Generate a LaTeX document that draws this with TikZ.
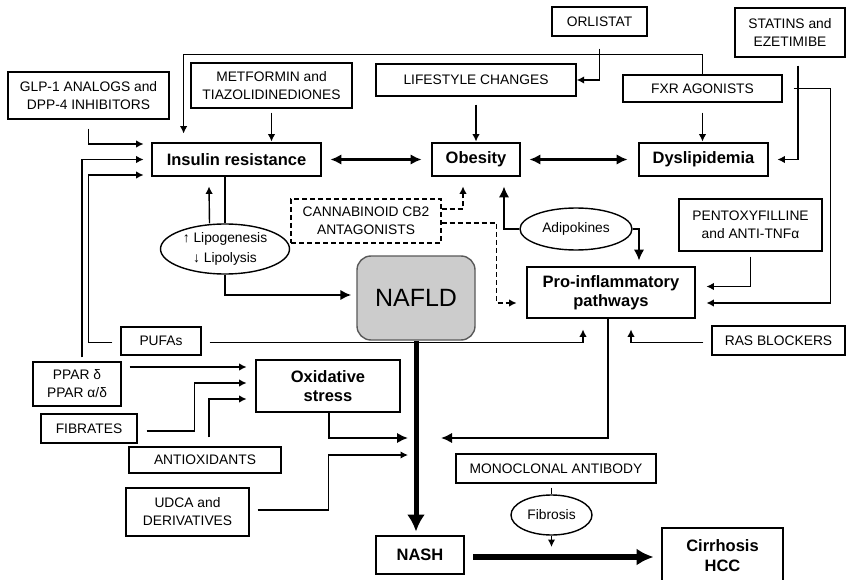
\documentclass[tikz,border=0pt]{standalone}
\usepackage{fontspec}
\setmainfont{Liberation Sans}
\usetikzlibrary{arrows.meta,shapes.geometric}
\begin{document}
\begin{tikzpicture}[x=1pt,y=-1pt,
 sbox/.style={draw, line width=1.4pt, inner sep=0pt, align=center, font=\fontsize{13.8}{18}\selectfont},
 mbox/.style={draw, line width=2.8pt, inner sep=0pt, align=center, font=\fontsize{16.5}{19.5}\selectfont\bfseries},
 ell/.style={draw, ellipse, line width=1.4pt, inner xsep=0pt, inner ysep=-6pt, align=center, font=\fontsize{13.8}{20}\selectfont, fill=white},
 nafbox/.style={draw=black!65, fill=black!20, line width=1.4pt, rounded corners=14pt, inner sep=0pt, font=\fontsize{25}{28}\selectfont},
 arr/.style={line width=1.4pt, -{Latex[length=7.5pt,width=7.5pt]}},
 tarr/.style={line width=2.6pt, -{Latex[length=11pt,width=10.5pt]}},
 tdarr/.style={line width=2.6pt, {Latex[length=11pt,width=10.5pt]}-{Latex[length=11pt,width=10.5pt]}},
 darr/.style={line width=1.4pt, dash pattern=on 5pt off 3pt, -{Latex[length=7.5pt,width=7.5pt]}},
 ]
\useasboundingbox[fill=white] (0,0) rectangle (846,580);

% nodes
\node[sbox, minimum width=95pt, minimum height=29pt] (orl) at (599.5,21.5) {ORLISTAT};
\node[sbox, minimum width=110pt, minimum height=49pt] (stat) at (790,32.5) {STATINS and\\EZETIMIBE};
\node[sbox, minimum width=161pt, minimum height=47pt] (glp) at (88.5,95.5) {GLP-1 ANALOGS and\\DPP-4 INHIBITORS};
\node[sbox, minimum width=161pt, minimum height=45pt] (met) at (271.5,85.5) {METFORMIN and\\TIAZOLIDINEDIONES};
\node[sbox, minimum width=200pt, minimum height=32pt] (life) at (476,80) {LIFESTYLE CHANGES};
\node[sbox, minimum width=159pt, minimum height=27pt] (fxr) at (702.5,88.5) {FXR AGONISTS};
\node[mbox, minimum width=169pt, minimum height=33pt] (ins) at (236.5,159.5) {Insulin resistance};
\node[mbox, minimum width=88pt, minimum height=33pt] (obe) at (476,159.5) {Obesity};
\node[mbox, minimum width=129pt, minimum height=33pt] (dys) at (703.5,159.5) {Dyslipidemia};
\node[sbox, dash pattern=on 5pt off 3pt, minimum width=150pt, minimum height=44pt] (cb2) at (366,221) {CANNABINOID CB2\\ANTAGONISTS};
\node[ell, minimum width=129pt, minimum height=50pt] (lip) at (225,249) {↑ Lipogenesis\\↓ Lipolysis};
\node[ell, minimum width=112pt, minimum height=42pt] (adi) at (576,229) {Adipokines};
\node[sbox, minimum width=143pt, minimum height=52pt] (pen) at (750.5,225) {PENTOXYFILLINE\\and ANTI-TNFα};
\node[nafbox, minimum width=118pt, minimum height=84pt] (naf) at (416,298) {NAFLD};
\node[mbox, minimum width=168pt, minimum height=51pt] (pro) at (611,292.5) {Pro-inflammatory\\pathways};
\node[sbox, minimum width=133pt, minimum height=29pt] (ras) at (778.5,340.5) {RAS BLOCKERS};
\node[sbox, minimum width=80pt, minimum height=28pt] (puf) at (161,341) {PUFAs};
\node[sbox, minimum width=88pt, minimum height=44pt] (ppar) at (77,384) {PPAR δ\\PPAR α/δ};
\node[mbox, minimum width=144pt, minimum height=52pt] (oxi) at (328,386) {Oxidative\\stress};
\node[sbox, minimum width=96pt, minimum height=29pt] (fib) at (89,428.5) {FIBRATES};
\node[sbox, minimum width=152pt, minimum height=26pt] (ant) at (205,460) {ANTIOXIDANTS};
\node[sbox, minimum width=123pt, minimum height=48pt] (udca) at (187.5,512) {UDCA and\\DERIVATIVES};
\node[sbox, minimum width=200pt, minimum height=29pt] (mon) at (556,468.5) {MONOCLONAL ANTIBODY};
\node[ell, minimum width=81pt, minimum height=40pt] (fibr) at (551.5,515) {Fibrosis};
\node[mbox, minimum width=88pt, minimum height=38pt] (nash) at (420,555) {NASH};
\node[mbox, minimum width=121pt, minimum height=55pt] (cir) at (722.5,555.5) {Cirrhosis\\HCC};

% free ends
\coordinate (nt) at ([yshift=3pt]nash.north);
\coordinate (j1) at (441,438);
\coordinate (j2) at (408,438);
\coordinate (j3) at (408,455);
\coordinate (j4) at (551.5,547);

% connectors
\draw[arr] ([yshift=-12pt]orl.south) |- (life.east);
\draw[arr] (fxr.north) -- ++(0,-20) -| ([xshift=33pt,yshift=8pt]ins.north west);
\draw[arr] ([yshift=-4pt]met.south) -- (met.south |- ins.north);
\draw[arr] ([yshift=-8pt]life.south) -- (life.south |- obe.north);
\draw[arr] ([yshift=-10pt]fxr.south) -- (fxr.south |- dys.north);
\draw[arr] ([xshift=8pt,yshift=-8pt]stat.south) |- ([xshift=8pt]dys.east);
\draw[arr] ([xshift=11pt]fxr.east) -- ++(37,0) |- ([xshift=10pt,yshift=-10.5pt]pro.east);
\draw[arr] ([yshift=-5pt]pen.south) |- ([xshift=10pt,yshift=6pt]pro.east);
\draw[arr] ([yshift=-9pt]glp.south) |- ([xshift=-7pt,yshift=15.5pt]ins.west);
\draw[arr] ([xshift=5pt,yshift=4pt]ppar.north) |- ([xshift=-7pt]ins.west);
\draw[arr] ([xshift=-8pt,yshift=-1.5pt]puf.west) -- ++(-24,0) |- ([xshift=-7pt,yshift=-15.5pt]ins.west);
\draw[tdarr] ([xshift=8pt]ins.east) -- ([xshift=-9pt]obe.west);
\draw[tdarr] ([xshift=8pt]obe.east) -- ([xshift=-10pt]dys.west);
\draw[arr] ([xshift=-15.5pt]lip.north) -- ([xshift=-27.5pt,yshift=-9pt]ins.south);
\draw[line width=2.6pt] ([xshift=-11.5pt]ins.south) -- (lip.north);
\draw[tarr] (lip.south) |- ([xshift=-5pt,yshift=3pt]naf.west);
\draw[darr] ([yshift=12pt]cb2.east) -| ([xshift=-13pt,yshift=-9pt]obe.south);
\draw[darr] ([yshift=-2pt]cb2.east) -- ++(55,0) |- ([xshift=-9pt,yshift=-10.5pt]pro.west);
\draw[tarr] (adi.west) -| ([xshift=28pt,yshift=-9pt]obe.south);
\draw[tarr] (adi.east) -| ([xshift=28pt,yshift=5pt]pro.north);
\draw[arr] ([xshift=8pt,yshift=-1.5pt]puf.east) -| ([xshift=-28pt,yshift=-10pt]pro.south);
\draw[arr] ([xshift=-8pt,yshift=-2pt]ras.west) -| ([xshift=20pt,yshift=-10pt]pro.south);
\draw[line width=5pt, -{Latex[length=17pt,width=18pt]}] (naf.south) -- (nt -| naf.south);
\draw[tarr] ([xshift=-3pt]pro.south) |- (j1);
\draw[tarr] ([xshift=1pt]oxi.south) |- (j2);
\draw[arr] ([xshift=8pt,yshift=2pt]udca.east) -- ++(71,0) |- (j3);
\draw[arr] ([xshift=8pt,yshift=17pt]ppar.east) -- ([xshift=-8pt,yshift=19pt]oxi.west);
\draw[arr] ([xshift=9pt,yshift=-2.5pt]fib.east) -- ++(48,0) |- ([xshift=-8pt,yshift=3pt]oxi.west);
\draw[arr] ([xshift=4pt,yshift=9pt]ant.north) |- ([xshift=-8pt,yshift=-13pt]oxi.west);
\draw[line width=1.4pt] ([xshift=-4.5pt,yshift=-4pt]mon.south) -- (fibr.north);
\draw[arr] (fibr.south) -- (j4);
\draw[line width=6pt, -{Latex[length=17pt,width=17pt]}] ([xshift=8pt,yshift=-2pt]nash.east) -- ([xshift=-7pt,yshift=-1.5pt]cir.west);
\end{tikzpicture}
\end{document}
